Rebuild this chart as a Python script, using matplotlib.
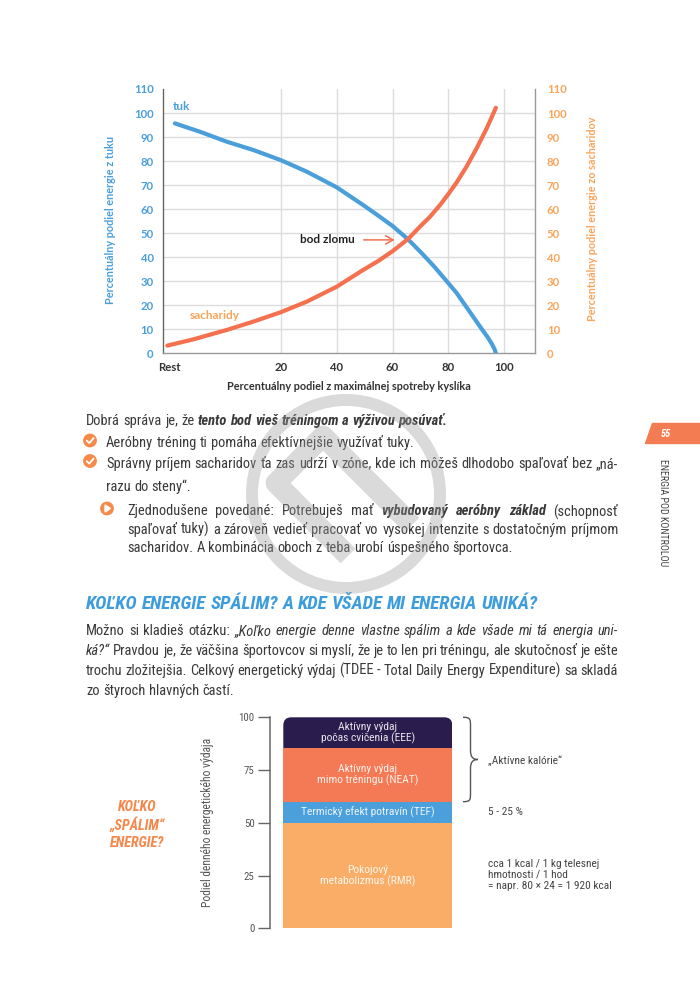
import matplotlib
matplotlib.use('Agg')
import matplotlib.pyplot as plt
from matplotlib import font_manager as fm
from matplotlib.patches import FancyBboxPatch, Circle, Polygon, PathPatch
from matplotlib.path import Path

# ---------------- data ----------------
x_tick_values = [-20, 20, 40, 60, 80, 100]
x_tick_labels = ['Rest', '20', '40', '60', '80', '100']
y_tick_values = [0, 10, 20, 30, 40, 50, 60, 70, 80, 90, 100, 110]
fat_x = [-17.9, -8.9, 0.6, 10.2, 20, 29.3, 40, 49.5, 55, 60, 65.6, 71, 75, 79.4, 83, 86, 89,
         92, 94, 95.5, 96.5, 97]
fat_y = [95.7, 92.2, 88.1, 84.6, 80.4, 75.6, 69.1, 61.7, 57.2, 53, 47.4, 41, 36, 30, 25, 20, 15,
         10, 6.8, 4, 1.8, 0]
carb_x = [-20.6, -11.3, 0.6, 10.2, 20, 29.3, 40, 49.5, 55, 60, 65.6, 69.8, 73.4, 77, 80, 83,
          86.5, 90.1, 93.7, 97]
carb_y = [3.2, 5.8, 9.7, 13.2, 17.1, 21.5, 27.7, 34.7, 38.5, 42.5, 47.6, 52.7, 56.8, 61.7, 66.3,
          71.2, 77.7, 85.3, 93.6, 102.2]

seg_labels = ['Pokojový\nmetabolizmus (RMR)', 'Termický efekt potravín (TEF)',
              'Aktívny výdaj\nmimo tréningu (NEAT)', 'Aktívny výdaj\npočas cvičenia (EEE)']
seg_values = [50, 10, 25.3, 14.7]
seg_colors = ['#f9ad66', '#4b9fdb', '#f47a56', '#2a1d4e']
seg_ticks = [0, 25, 50, 75, 100]
seg_notes = ['cca 1 kcal / 1 kg telesnej\nhmotnosti / 1 hod\n= napr. 80 × 24 = 1 920 kcal',
             '5 - 25 %', '„Aktívne kalórie“']

BLUE = '#4a9fdb'
ORANGE = '#f4704f'
ORANGE_T = '#f9a55b'
TXT = '#3a3a3a'

# ---------------- fonts ----------------
names = {f.name for f in fm.fontManager.ttflist}
def pick(cands, default):
    for c in cands:
        if c in names:
            return c
    return default
CHART = pick(['Lato', 'Open Sans', 'Noto Sans'], 'DejaVu Sans')
COND = pick(['Roboto Condensed', 'Liberation Sans Narrow', 'Open Sans Condensed',
             'Noto Sans Condensed'], 'Liberation Sans')

fig = plt.figure(figsize=(7.0, 9.97), dpi=100)
fig.patch.set_facecolor('white')
pg = fig.add_axes([0, 0, 1, 1], zorder=5)
pg.set_xlim(0, 700)
pg.set_ylim(997, 0)
pg.axis('off')
R = fig.canvas.get_renderer()

def tw(s, **kw):
    t = pg.text(0, 0, s, **kw)
    w = t.get_window_extent(R).width
    t.remove()
    return w

def fit(s, target, **kw):
    return 10.0 * target / tw(s, size=10, **kw)

STY = {'n': {}, 'bi': dict(style='italic', weight='bold'), 'i': dict(style='italic'),
       'b': dict(weight='bold')}

def draw_runs(runs, x0, yc, x1=None, size=10, color=TXT, family=COND):
    base = dict(family=family, size=size, color=color)
    words = [[]]
    for text, st in runs:
        for i, part in enumerate(text.split(' ')):
            if i > 0:
                words.append([])
            if part:
                words[-1].append((part, st))
    words = [w for w in words if w]
    widths = [[tw(p, **base, **STY[st]) for p, st in w] for w in words]
    sp = tw('a a', **base) - tw('aa', **base)
    tot = sum(sum(w) for w in widths)
    if x1 is None or len(words) < 2:
        gap = sp
    else:
        gap = (x1 - x0 - tot) / (len(words) - 1)
    yb = yc + 0.5 * size
    x = x0
    for w, ws in zip(words, widths):
        for (p, st), pw in zip(w, ws):
            pg.text(x, yb, p, va='baseline', ha='left', **base, **STY[st])
            x += pw
        x += gap

# ================= top chart =================
ax = fig.add_axes([163.3 / 700, (997 - 353.3) / 997, (535 - 163.3) / 700, (353.3 - 89) / 997])
ax.set_xlim(-22.05, 111)
ax.set_ylim(0, 110)
for xv in x_tick_values[1:]:
    ax.axvline(xv, color='#dcdcdc', lw=1.0, zorder=1)
for yv in y_tick_values[1:-1]:
    ax.axhline(yv, color='#dcdcdc', lw=1.0, zorder=1)
ax.plot(fat_x, fat_y, color=BLUE, lw=3.0, solid_capstyle='round', solid_joinstyle='round', zorder=3)
ax.plot(carb_x, carb_y, color=ORANGE, lw=3.0, solid_capstyle='round', solid_joinstyle='round', zorder=3)
ax.spines['top'].set_visible(False)
ax.spines['left'].set_color('#666666')
ax.spines['bottom'].set_color('#999999')
ax.spines['right'].set_color('#999999')
for s in ax.spines.values():
    s.set_linewidth(1.0)
ax.set_xticks(x_tick_values)
ax.set_xticklabels(x_tick_labels)
ax.set_yticks(y_tick_values)
ax.tick_params(axis='both', length=0)
ax.tick_params(axis='x', pad=6.0, labelcolor='#333333')
ax.tick_params(axis='y', pad=7.0, labelcolor=BLUE)
for lab in ax.get_xticklabels() + ax.get_yticklabels():
    lab.set_fontfamily(CHART)
    lab.set_fontweight('bold')
    lab.set_fontsize(8.2)

ax2 = ax.twinx()
ax2.set_ylim(0, 110)
ax2.set_yticks(y_tick_values)
ax2.tick_params(axis='y', length=0, pad=8.5, labelcolor=ORANGE_T)
for s in ax2.spines.values():
    s.set_visible(False)
for lab in ax2.get_yticklabels():
    lab.set_fontfamily(CHART)
    lab.set_fontweight('bold')
    lab.set_fontsize(8.2)

lkw = dict(family=CHART, weight='bold')
xl = 'Percentuálny podiel z maximálnej spotreby kyslíka'
yl = 'Percentuálny podiel energie z tuku'
yr = 'Percentuálny podiel energie zo sacharidov'
fs_lab = fit(xl, 243, **lkw)
l1 = ax.set_xlabel(xl, color='#333333', fontsize=fs_lab, **lkw)
ax.xaxis.set_label_coords(0.5, (353.3 - 386) / 264.3)
l1.set_va('center')
l2 = ax.set_ylabel(yl, color=BLUE, fontsize=fs_lab, **lkw)
ax.yaxis.set_label_coords((110 - 163.3) / 371.7, (353.3 - 220) / 264.3)
l2.set_va('center')
l3 = ax2.set_ylabel(yr, color=ORANGE_T, fontsize=fs_lab, rotation=90, **lkw)
ax2.yaxis.set_label_coords((593 - 163.3) / 371.7, (353.3 - 219) / 264.3)
l3.set_va('center')

ax.text(-18.8, 102.6, 'tuk', color=BLUE, fontsize=8.5, va='center', ha='left', **lkw)
ax.text(-12.7, 15.9, 'sacharidy', color=ORANGE_T, fontsize=8.5, va='center', ha='left', **lkw)
ax.text(46.6, 47.2, 'bod zlomu', color='#222222', fontsize=8.5, va='center', ha='right', **lkw)
ax.annotate('', xy=(61.8, 47.2), xytext=(48.7, 47.2),
            arrowprops=dict(arrowstyle='->,head_length=0.55,head_width=0.3', color=ORANGE, lw=1.1))

# ================= body text =================
bs = fit('Aeróbny tréning ti pomáha efektívnejšie využívať tuky.', 306, family=COND)
draw_runs([('Dobrá správa je, že ', 'n'), ('tento bod vieš tréningom a výživou posúvať.', 'bi')],
          86, 419.5, size=bs)
draw_runs([('Aeróbny tréning ti pomáha efektívnejšie využívať tuky.', 'n')], 106, 441.5, size=bs)
draw_runs([('Správny príjem sacharidov ťa zas udrží v zóne, kde ich môžeš dlhodobo spaľovať bez „ná-', 'n')],
          106, 462.5, x1=618, size=bs)
draw_runs([('razu do steny“.', 'n')], 106, 486, size=bs)
draw_runs([('Zjednodušene povedané: Potrebuješ mať ', 'n'), ('vybudovaný aeróbny základ', 'bi'),
           (' (schopnosť', 'n')], 127, 510, x1=618, size=bs)
draw_runs([('spaľovať tuky) a zároveň vedieť pracovať vo vysokej intenzite s dostatočným príjmom', 'n')],
          127, 528.5, x1=618, size=bs)
draw_runs([('sacharidov. A kombinácia oboch z teba urobí úspešného športovca.', 'n')], 127, 547, size=bs)

# icons
for yc in (440.5, 461):
    pg.add_patch(Circle((90, yc), 6.2, color='#f58a4b', zorder=6))
    pg.plot([86.8, 89.3, 93.6], [yc + 0.2, yc + 2.6, yc - 2.4], color='white', lw=1.3,
            solid_capstyle='round', zorder=7)
pg.add_patch(Circle((107, 508.5), 6.2, color='#f58a4b', zorder=6))
pg.add_patch(Polygon([(105, 505), (105, 512), (110.5, 508.5)], closed=True, color='white', zorder=7))

head = 'KOĽKO ENERGIE SPÁLIM? A KDE VŠADE MI ENERGIA UNIKÁ?'
hs = fit(head, 451, family=COND, weight='bold', style='italic')
draw_runs([(head, 'bi')], 86, 602, size=hs, color='#3d9ddc')

draw_runs([('Možno si kladieš otázku: ', 'n'),
           ('„Koľko energie denne vlastne spálim a kde všade mi tá energia uni-', 'i')],
          86, 629.5, x1=618, size=bs)
draw_runs([('ká?“', 'i'), (' Pravdou je, že väčšina športovcov si myslí, že je to len pri tréningu, ale skutočnosť je ešte', 'n')],
          86, 649.5, x1=618, size=bs)
draw_runs([('trochu zložitejšia. Celkový energetický výdaj (TDEE - Total Daily Energy Expenditure) sa skladá', 'n')],
          86, 669.5, x1=618, size=bs)
draw_runs([('zo štyroch hlavných častí.', 'n')], 86, 689.5, size=bs)

# page tab + running head
pg.add_patch(Polygon([(652, 423), (700, 423), (700, 443.3), (645, 443.3)], closed=True,
                     color='#f47c52', zorder=6))
pg.text(665.5, 433.5, '55', color='white', fontsize=7.5, family=COND, weight='bold', style='italic',
        ha='center', va='center', zorder=7)
rh = 'ENERGIA POD KONTROLOU'
pg.text(663, 513, rh, rotation=-90, ha='center', va='center', color='#444444', family=COND,
        fontsize=fit(rh, 108, family=COND))

# watermark
pg.add_patch(Circle((346, 494), 94, fill=False, lw=8.6, ec='#999999', alpha=0.36, zorder=9))
pg.plot([348, 276, 323, 412], [556, 483, 436, 525], color='#999999', alpha=0.36, lw=15,
        solid_joinstyle='round', solid_capstyle='butt', zorder=9)

# ================= bottom chart =================
bx = fig.add_axes([270 / 700, (997 - 928.3) / 997, 190 / 700, 211 / 997])
bx.set_xlim(0, 190)
bx.set_ylim(0, 100)
bx.patch.set_alpha(0)
for k in ('top', 'right', 'bottom'):
    bx.spines[k].set_visible(False)
bx.spines['left'].set_color('#666666')
bx.spines['left'].set_linewidth(1.1)
bx.set_xticks([])
bx.set_yticks(seg_ticks)
bx.tick_params(axis='y', length=8.6, width=1.0, color='#666666', pad=2.5, labelcolor='#555555',
               labelsize=7.8)
for lab in bx.get_yticklabels():
    lab.set_fontfamily(COND)
    lab.set_fontweight('normal')

bar_c, bar_w = 97.8, 169
bottoms = [sum(seg_values[:i]) for i in range(len(seg_values))]
bars = bx.bar([bar_c] * len(seg_values), seg_values, bottom=bottoms, width=bar_w,
              color=seg_colors, edgecolor='none', zorder=2)
top_b = bottoms[-1]
clip = FancyBboxPatch((bar_c - bar_w / 2, top_b - 15), bar_w, 15 + seg_values[-1],
                      boxstyle='round,pad=0,rounding_size=8', mutation_aspect=1 / 2.11,
                      transform=bx.transData)
bars[-1].set_clip_path(clip)

lbl_kw = dict(family=COND, weight='normal')
fs_bar = fit(seg_labels[1], 132.6, **lbl_kw)
for lab, b, v in zip(seg_labels, bottoms, seg_values):
    bx.text(bar_c, b + v / 2, lab, ha='center', va='center', color='white', alpha=0.88,
            fontsize=fs_bar, linespacing=1.05, zorder=3, **lbl_kw)

yb_lab = 'Podiel denného energetického výdaja'
bx.set_ylabel(yb_lab, color='#555555', fontsize=fit(yb_lab, 170, **lbl_kw), **lbl_kw)
bx.yaxis.set_label_coords((208 - 270) / 190, 0.5)
bx.yaxis.label.set_va('center')

# notes on the right
fs_note = fit(seg_notes[0].split('\n')[2], 123, **lbl_kw)
bx.text(218, 25.3, seg_notes[0], ha='left', va='center', color='#444444', fontsize=fs_note,
        linespacing=1.08, clip_on=False, **lbl_kw)
bx.text(218, 55, seg_notes[1], ha='left', va='center', color='#444444', fontsize=fs_note,
        clip_on=False, **lbl_kw)
bx.text(218, 79.5, seg_notes[2], ha='left', va='center', color='#444444', fontsize=fs_note,
        clip_on=False, **lbl_kw)

# curly brace grouping NEAT + EEE
ytop = 100
ybot = bottoms[2]
ymid = (ytop + ybot) / 2
xa, xm, xt = 193, 200.5, 208
r = 4.3
verts = [(xa, ytop), (xm, ytop), (xm, ytop - 0.2 * r), (xm, ytop - r),
         (xm, ymid + r),
         (xm, ymid + 0.3 * r), (xm + 0.3 * (xt - xm), ymid), (xt, ymid),
         (xm + 0.3 * (xt - xm), ymid), (xm, ymid - 0.3 * r), (xm, ymid - r),
         (xm, ybot + r),
         (xm, ybot + 0.2 * r), (xm, ybot), (xa, ybot)]
codes = [Path.MOVETO, Path.CURVE4, Path.CURVE4, Path.CURVE4, Path.LINETO,
         Path.CURVE4, Path.CURVE4, Path.CURVE4, Path.CURVE4, Path.CURVE4, Path.CURVE4,
         Path.LINETO, Path.CURVE4, Path.CURVE4, Path.CURVE4]
bx.add_patch(PathPatch(Path(verts, codes), fill=False, ec='#555555', lw=1.0, clip_on=False))

# left side heading
q = 'KOĽKO\n„SPÁLIM“\nENERGIE?'
qs = fit('„SPÁLIM“', 55, family=COND, weight='bold', style='italic')
pg.text(137, 825, q, ha='center', va='center', color='#f5874a', family=COND, weight='bold',
        style='italic', fontsize=qs, linespacing=18 / (qs * 100 / 72))

fig.savefig('out.png', dpi=100, facecolor='white')
